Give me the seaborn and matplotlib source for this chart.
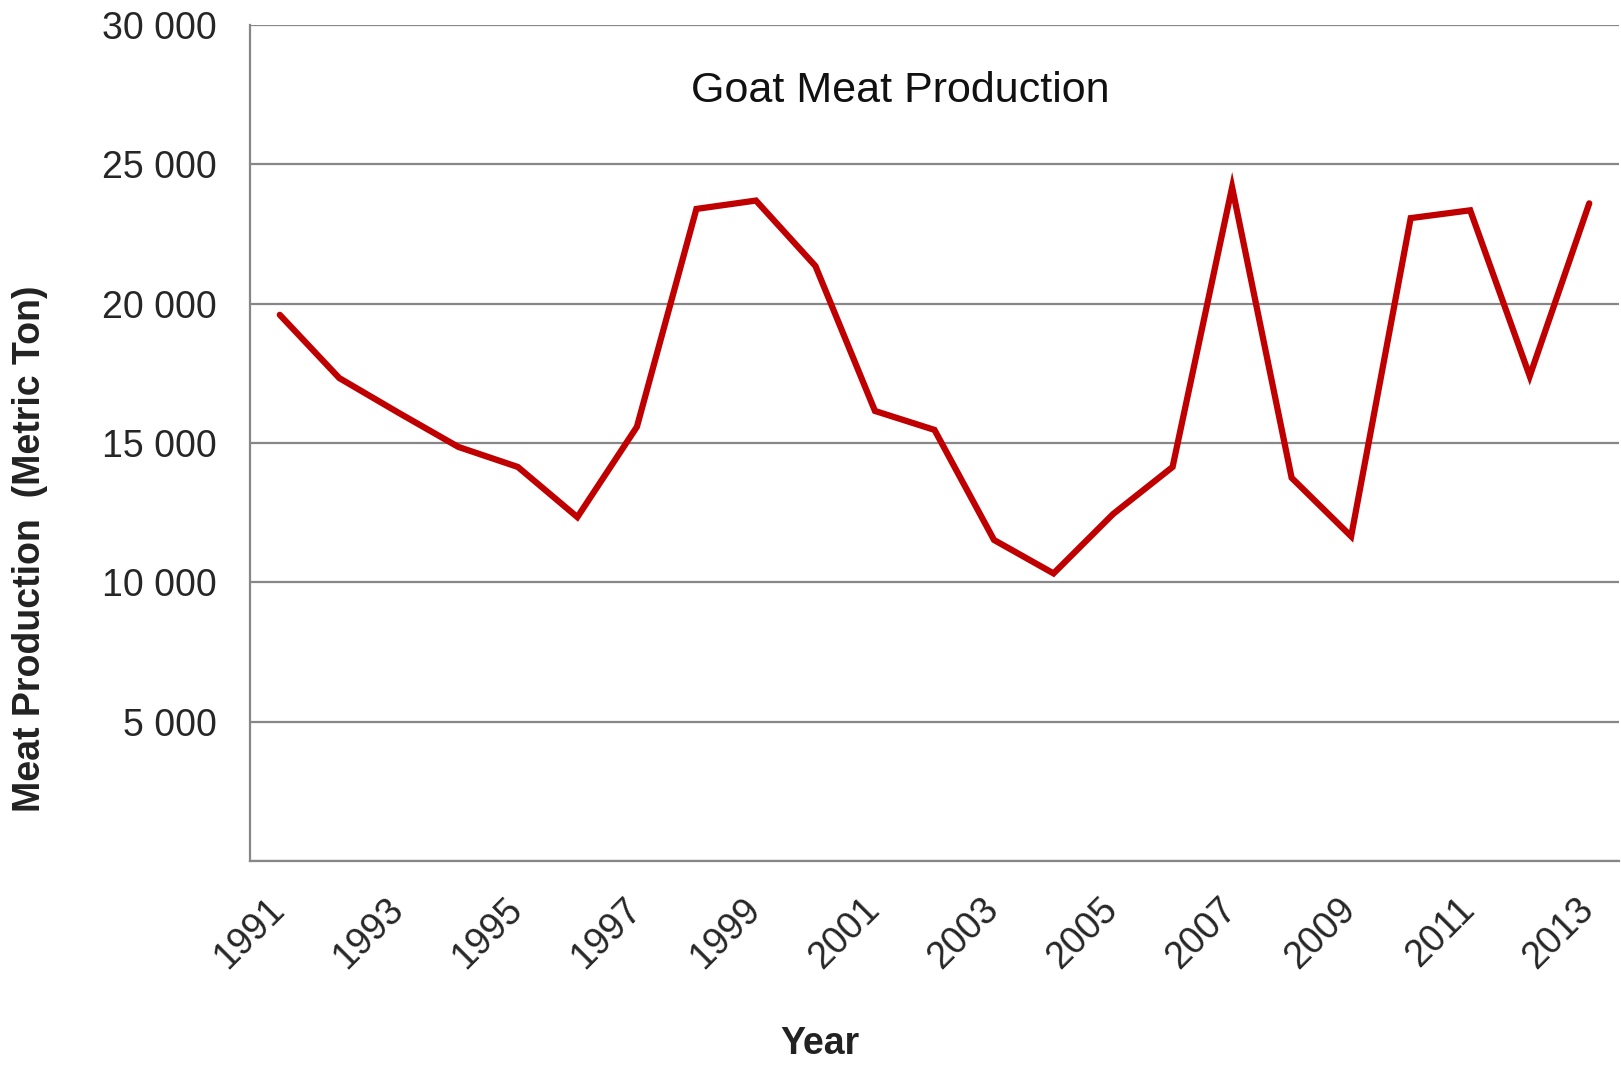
import matplotlib
matplotlib.use("Agg")
import matplotlib.pyplot as plt
import matplotlib.ticker as mticker
from matplotlib.transforms import ScaledTranslation
import seaborn as sns
import pandas as pd

years = list(range(1991, 2014))
production = [19600, 17330, 16080, 14860, 14140, 12340, 15580, 23400, 23700,
              21350, 16150, 15470, 11520, 10320, 12450, 14140, 24180, 13750,
              11650, 23070, 23350, 17400, 23600]
year_labels = [str(y) for y in range(1991, 2014, 2)]

title_text = "Goat Meat Production"
ylabel_text = "Meat Production  (Metric Ton)"
xlabel_text = "Year"

sns.set_style("white")
plt.rcParams['font.family'] = ['Liberation Sans', 'DejaVu Sans']

df = pd.DataFrame({"Year": years, "Production": production})

fig = plt.figure(figsize=(16.21, 10.65), dpi=100)
ax = fig.add_axes([250/1621, 1-861/1065, (1619-250)/1621, (861-25)/1065])

grid_c = "#878787"
sns.lineplot(data=df, x="Year", y="Production", ax=ax, color="#C00000",
             linewidth=4.5, solid_joinstyle="miter", zorder=3)

ax.set_xlim(years[0] - 0.5, years[-1] + 0.5)
ax.set_ylim(0, 30000)

ax.yaxis.set_major_locator(mticker.MultipleLocator(5000))
ax.yaxis.set_major_formatter(mticker.FuncFormatter(
    lambda v, p: "" if v == 0 else f"{int(v):,}".replace(",", " ")))
ax.grid(axis="y", color=grid_c, linewidth=1.6)
ax.set_axisbelow(True)

ax.set_xticks([int(l) for l in year_labels])
ax.set_xticklabels(year_labels, rotation=45, ha="right", va="top",
                   rotation_mode="anchor")
ax.set_xticks([y - 0.5 for y in years] + [years[-1] + 0.5], minor=True)
ax.tick_params(axis="x", which="major", length=0, pad=22, labelsize=27)
ax.tick_params(axis="x", which="minor", length=8, width=1.6, color=grid_c,
               direction="out")
ax.tick_params(axis="y", which="major", length=8, width=1.6, color=grid_c,
               direction="out", labelsize=27, pad=16)
shift = ScaledTranslation(-10/72, 0, fig.dpi_scale_trans)
for lab in ax.get_xticklabels():
    lab.set_transform(lab.get_transform() + shift)

for s in ["top", "right"]:
    ax.spines[s].set_visible(False)
for s in ["left", "bottom"]:
    ax.spines[s].set_color(grid_c)
    ax.spines[s].set_linewidth(1.6)

ax.set_xlabel(xlabel_text, fontsize=27, fontweight="bold", va="center",
              color="#222222")
ax.xaxis.set_label_coords(0.416, -0.219)
ax.set_ylabel(ylabel_text, fontsize=27, fontweight="bold", va="center",
              color="#222222")
ax.yaxis.set_label_coords(-0.161, 0.374)

ax.text(0.475, 0.921, title_text, transform=ax.transAxes, fontsize=31,
        ha="center", va="center", color="#111111")

fig.savefig("out.png", dpi=100)
